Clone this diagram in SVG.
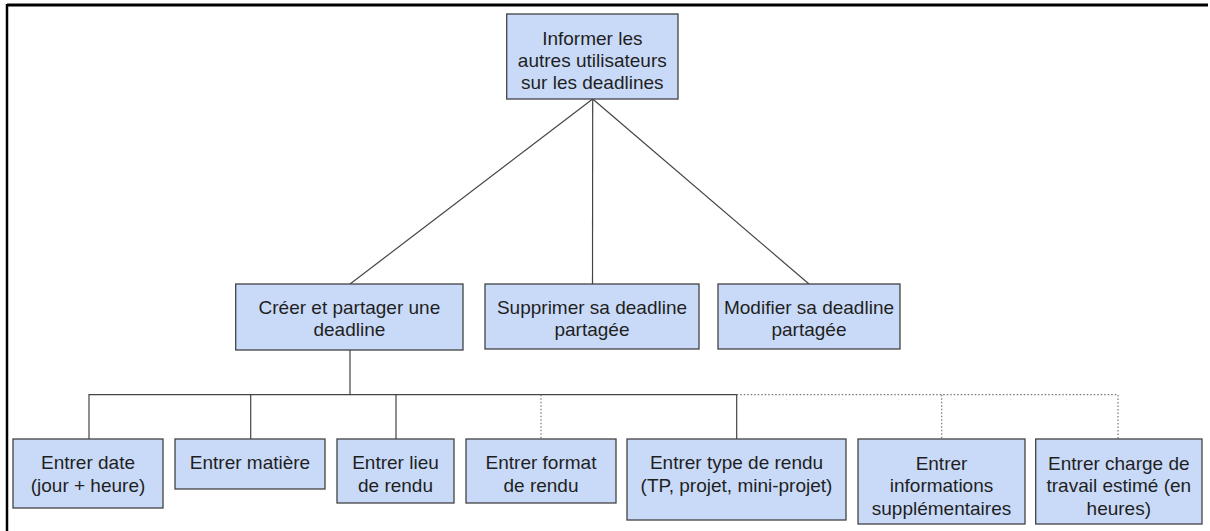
<svg xmlns="http://www.w3.org/2000/svg" width="1210" height="531" viewBox="0 0 1210 531">
<style>
.box{fill:#c9daf8;stroke:#434343;stroke-width:1.3}
.t{font-family:"Liberation Sans",Arial,sans-serif;font-size:19px;fill:#1f1f1f;text-anchor:middle}
.c{fill:none;stroke:#444;stroke-width:1.2}
.d{fill:none;stroke:#777;stroke-width:1.2;stroke-dasharray:1.5 2}
</style>
<rect width="1210" height="531" fill="#fff"/>
<g id="frame" fill="none" stroke="#000">
<line x1="7" y1="5" x2="1208" y2="5" stroke-width="3"/>
<line x1="7" y1="4" x2="7" y2="531" stroke-width="2.5"/>
</g>
<g id="connectors">
<line class="c" x1="592.7" y1="99" x2="350" y2="284"/>
<line class="c" x1="592.7" y1="99" x2="592.5" y2="284"/>
<line class="c" x1="592.7" y1="99" x2="809" y2="284"/>
<polyline class="c" points="350,350 350,394.7 89,394.7 89,439"/>
<polyline class="c" points="250.7,394.7 250.7,439"/>
<polyline class="c" points="396,394.7 396,439"/>
<polyline class="c" points="350,394.7 736.7,394.7 736.7,439"/>
<polyline class="d" points="541,394.7 541,439"/>
<polyline class="d" points="736.7,394.7 1118,394.7 1118,439"/>
<polyline class="d" points="941.7,394.7 941.7,439"/>
</g>
<g id="n-root"><rect class="box" x="506.7" y="14" width="171.3" height="85"/>
<text class="t" x="592.3" y="44.5">Informer les</text><text class="t" x="592.3" y="66.5">autres utilisateurs</text><text class="t" x="592.3" y="88.5">sur les deadlines</text></g>
<g id="n-creer"><rect class="box" x="235.7" y="284" width="227.3" height="66"/>
<text class="t" x="349.4" y="313.5">Créer et partager une</text><text class="t" x="349.4" y="336">deadline</text></g>
<g id="n-supprimer"><rect class="box" x="485" y="284" width="214" height="65"/>
<text class="t" x="592" y="313.5">Supprimer sa deadline</text><text class="t" x="592" y="336">partagée</text></g>
<g id="n-modifier"><rect class="box" x="718" y="284" width="182" height="65"/>
<text class="t" x="809" y="313.5">Modifier sa deadline</text><text class="t" x="809" y="336">partagée</text></g>
<g id="n-date"><rect class="box" x="13" y="439" width="150" height="69"/>
<text class="t" x="88" y="469">Entrer date</text><text class="t" x="88" y="491.5">(jour + heure)</text></g>
<g id="n-matiere"><rect class="box" x="175" y="439" width="150" height="50"/>
<text class="t" x="250" y="469">Entrer matière</text></g>
<g id="n-lieu"><rect class="box" x="337" y="439" width="117" height="64"/>
<text class="t" x="395.5" y="469">Entrer lieu</text><text class="t" x="395.5" y="491.5">de rendu</text></g>
<g id="n-format"><rect class="box" x="466" y="439" width="150" height="64"/>
<text class="t" x="541" y="469">Entrer format</text><text class="t" x="541" y="491.5">de rendu</text></g>
<g id="n-type"><rect class="box" x="627" y="439" width="219" height="81"/>
<text class="t" x="736.5" y="469">Entrer type de rendu</text><text class="t" x="736.5" y="491.5">(TP, projet, mini-projet)</text></g>
<g id="n-info"><rect class="box" x="858" y="439" width="167" height="85"/>
<text class="t" x="941.5" y="469.5">Entrer</text><text class="t" x="941.5" y="492">informations</text><text class="t" x="941.5" y="514.5">supplémentaires</text></g>
<g id="n-charge"><rect class="box" x="1035.7" y="439" width="166.3" height="85"/>
<text class="t" x="1118.8" y="469.5">Entrer charge de</text><text class="t" x="1118.8" y="492">travail estimé (en</text><text class="t" x="1118.8" y="514.5">heures)</text></g>
</svg>
